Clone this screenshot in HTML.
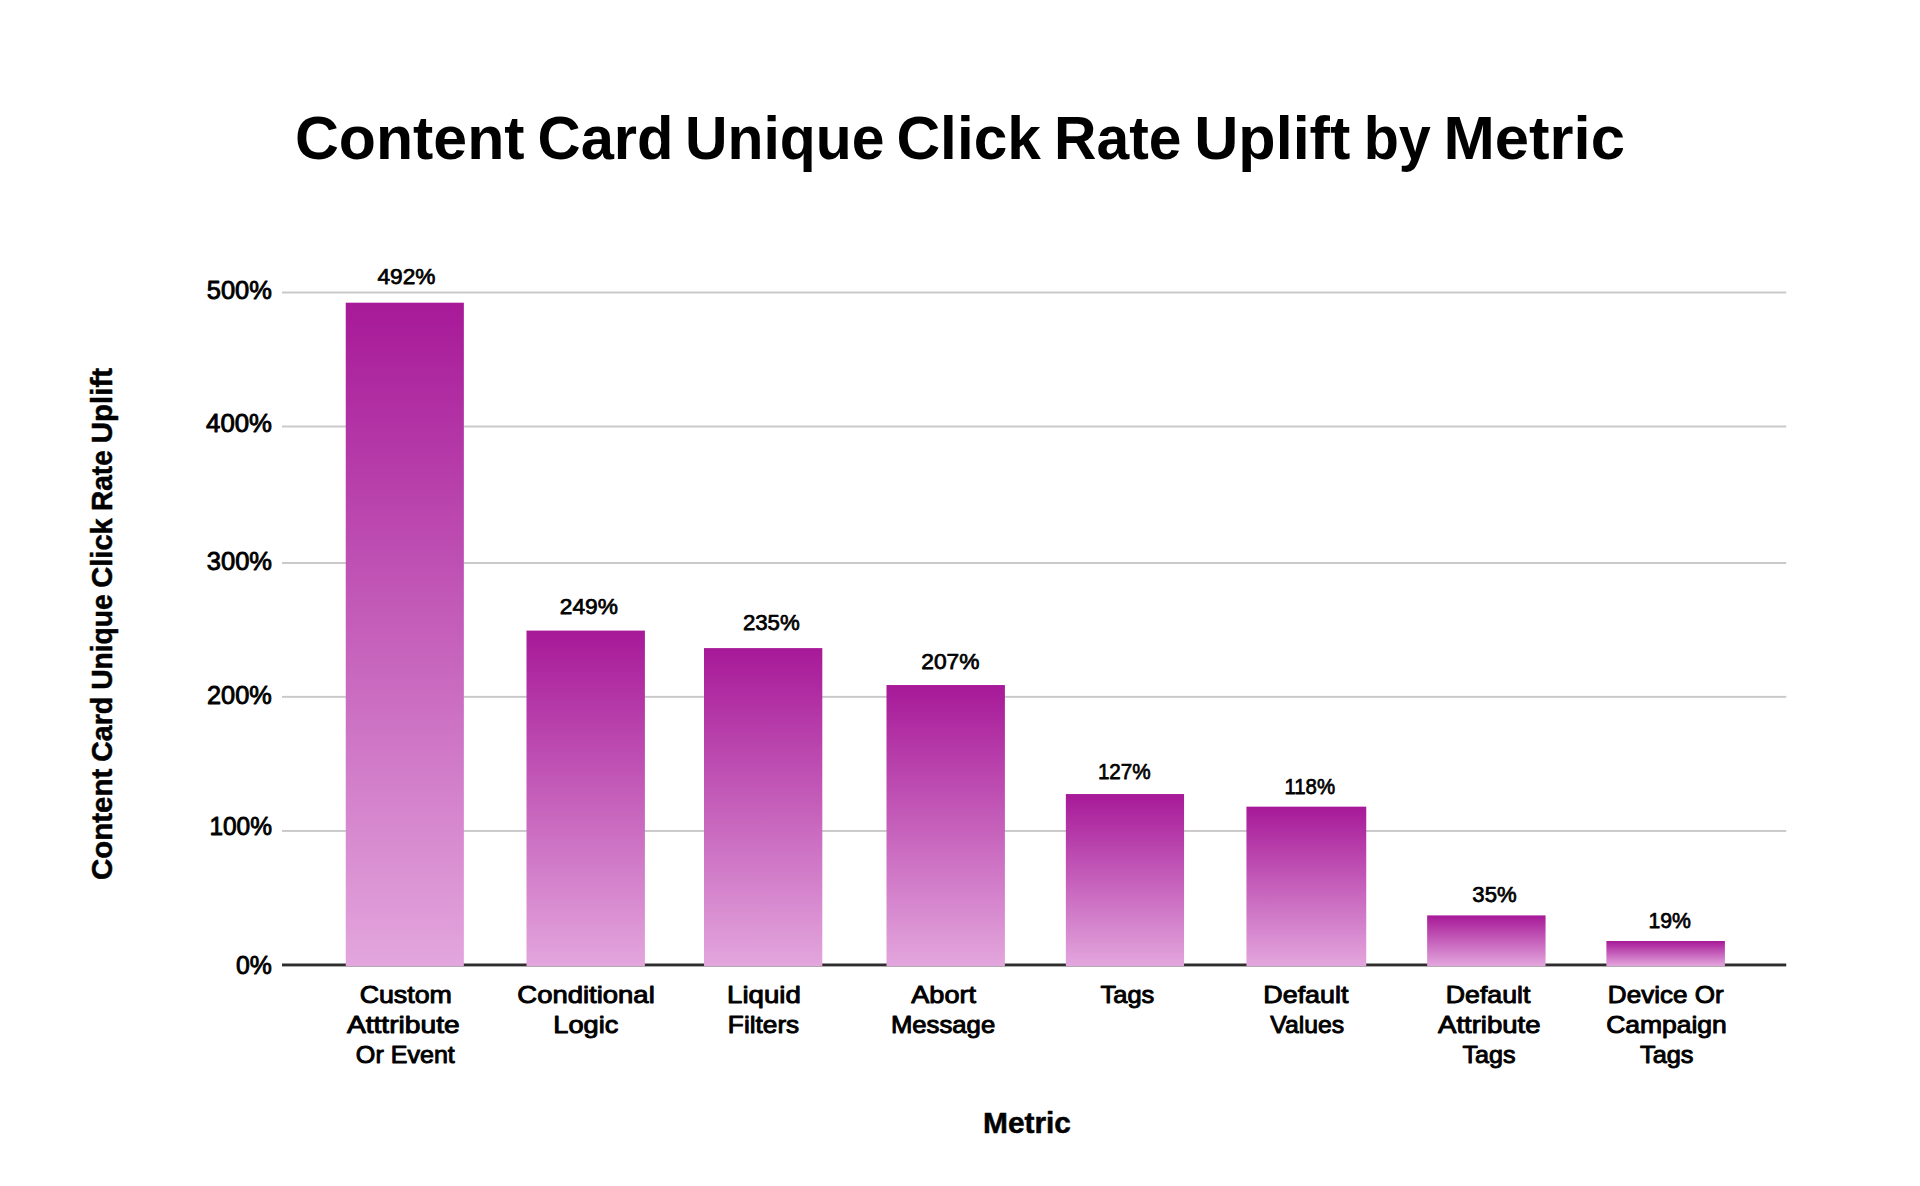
<!DOCTYPE html>
<html lang="en">
<head>
<meta charset="utf-8">
<title>Content Card Unique Click Rate Uplift by Metric</title>
<style>
html,body{margin:0;padding:0;background:#fff;}
body{width:1920px;height:1186px;overflow:hidden;}
svg{display:block;}
svg text{font-family:"Liberation Sans", sans-serif;fill:#000;}
</style>
</head>
<body>
<svg width="1920" height="1186" viewBox="0 0 1920 1186">
<defs><linearGradient id="bg" x1="0" y1="0" x2="0" y2="1"><stop offset="0" stop-color="#a71998"/><stop offset="1" stop-color="#e3a6dd"/></linearGradient></defs>
<rect width="1920" height="1186" fill="#fff"/>
<g id="grid" fill="#c9c7ca">
<rect x="282" y="291.55" width="1504.25" height="1.9"/>
<rect x="282" y="425.55" width="1504.25" height="1.9"/>
<rect x="282" y="562.05" width="1504.25" height="1.9"/>
<rect x="282" y="695.9" width="1504.25" height="1.9"/>
<rect x="282" y="830" width="1504.25" height="1.9"/>
</g>
<rect id="axis" x="282" y="963.5" width="1504.25" height="2.9" fill="#2d2d2d"/>
<g id="bars" fill="url(#bg)">
<rect x="345.75" y="302.7" width="118.1" height="663.4"/>
<rect x="526.5" y="630.6" width="118.4" height="335.5"/>
<rect x="704" y="648.1" width="118.3" height="318"/>
<rect x="886.5" y="685.05" width="118.4" height="281.05"/>
<rect x="1065.85" y="794.05" width="118.2" height="172.05"/>
<rect x="1246.45" y="806.65" width="119.8" height="159.45"/>
<rect x="1427.15" y="915.4" width="118.4" height="50.7"/>
<rect x="1606.4" y="941" width="118.5" height="25.1"/>
</g>
<g id="title">
<text id="t1" x="294.99" y="159" font-size="60.5" font-weight="700" textLength="229.51" lengthAdjust="spacingAndGlyphs">Content</text>
<text id="t2" x="537.53" y="159" font-size="60.5" font-weight="700" textLength="136.01" lengthAdjust="spacingAndGlyphs">Card</text>
<text id="t3" x="685.1" y="159" font-size="60.5" font-weight="700" textLength="199.36" lengthAdjust="spacingAndGlyphs">Unique</text>
<text id="t4" x="896.5" y="159" font-size="60.5" font-weight="700" textLength="144.35" lengthAdjust="spacingAndGlyphs">Click</text>
<text id="t5" x="1054.11" y="159" font-size="60.5" font-weight="700" textLength="127.47" lengthAdjust="spacingAndGlyphs">Rate</text>
<text id="t6" x="1194.21" y="159" font-size="60.5" font-weight="700" textLength="156.11" lengthAdjust="spacingAndGlyphs">Uplift</text>
<text id="t7" x="1363.7" y="159" font-size="60.5" font-weight="700" textLength="67.15" lengthAdjust="spacingAndGlyphs">by</text>
<text id="t8" x="1443.42" y="159" font-size="60.5" font-weight="700" textLength="181.56" lengthAdjust="spacingAndGlyphs">Metric</text>
</g>
<g id="ylabels">
<text id="y5" x="206.75" y="299" font-size="25.4" stroke="#000" stroke-width="0.9" stroke-linejoin="round" textLength="65.1" lengthAdjust="spacingAndGlyphs">500%</text>
<text id="y4" x="206.1" y="432" font-size="25.4" stroke="#000" stroke-width="0.9" stroke-linejoin="round" textLength="65.81" lengthAdjust="spacingAndGlyphs">400%</text>
<text id="y3" x="206.8" y="570" font-size="25.4" stroke="#000" stroke-width="0.9" stroke-linejoin="round" textLength="65.2" lengthAdjust="spacingAndGlyphs">300%</text>
<text id="y2" x="207.06" y="704" font-size="25.4" stroke="#000" stroke-width="0.9" stroke-linejoin="round" textLength="64.74" lengthAdjust="spacingAndGlyphs">200%</text>
<text id="y1" x="209.38" y="835" font-size="25.4" stroke="#000" stroke-width="0.9" stroke-linejoin="round" textLength="62.6" lengthAdjust="spacingAndGlyphs">100%</text>
<text id="y0" x="235.96" y="974" font-size="25.4" stroke="#000" stroke-width="0.9" stroke-linejoin="round" textLength="35.86" lengthAdjust="spacingAndGlyphs">0%</text>
</g>
<g id="values">
<text id="v1" x="377.45" y="284" font-size="22.6" stroke="#000" stroke-width="0.75" stroke-linejoin="round" textLength="57.96" lengthAdjust="spacingAndGlyphs">492%</text>
<text id="v2" x="559.75" y="614" font-size="22.6" stroke="#000" stroke-width="0.75" stroke-linejoin="round" textLength="58.08" lengthAdjust="spacingAndGlyphs">249%</text>
<text id="v3" x="742.92" y="630" font-size="22.6" stroke="#000" stroke-width="0.75" stroke-linejoin="round" textLength="56.81" lengthAdjust="spacingAndGlyphs">235%</text>
<text id="v4" x="921.25" y="669" font-size="22.6" stroke="#000" stroke-width="0.75" stroke-linejoin="round" textLength="58.27" lengthAdjust="spacingAndGlyphs">207%</text>
<text id="v5" x="1097.88" y="779" font-size="22.6" stroke="#000" stroke-width="0.75" stroke-linejoin="round" textLength="52.86" lengthAdjust="spacingAndGlyphs">127%</text>
<text id="v6" x="1284.4" y="794" font-size="22.6" stroke="#000" stroke-width="0.75" stroke-linejoin="round" textLength="50.67" lengthAdjust="spacingAndGlyphs">118%</text>
<text id="v7" x="1472.33" y="902" font-size="22.6" stroke="#000" stroke-width="0.75" stroke-linejoin="round" textLength="44.28" lengthAdjust="spacingAndGlyphs">35%</text>
<text id="v8" x="1648.5" y="928" font-size="22.6" stroke="#000" stroke-width="0.75" stroke-linejoin="round" textLength="42.47" lengthAdjust="spacingAndGlyphs">19%</text>
</g>
<g id="categories">
<text id="c1a" x="359.65" y="1003" font-size="24.1" stroke="#000" stroke-width="0.95" stroke-linejoin="round" textLength="92.23" lengthAdjust="spacingAndGlyphs">Custom</text>
<text id="c1b" x="346.9" y="1033" font-size="24.1" stroke="#000" stroke-width="0.95" stroke-linejoin="round" textLength="112.81" lengthAdjust="spacingAndGlyphs">Atttribute</text>
<text id="c1c" x="355.88" y="1063" font-size="24.1" stroke="#000" stroke-width="0.95" stroke-linejoin="round" textLength="98.96" lengthAdjust="spacingAndGlyphs">Or Event</text>
<text id="c2a" x="517.38" y="1003" font-size="24.1" stroke="#000" stroke-width="0.95" stroke-linejoin="round" textLength="137.38" lengthAdjust="spacingAndGlyphs">Conditional</text>
<text id="c2b" x="553.31" y="1033" font-size="24.1" stroke="#000" stroke-width="0.95" stroke-linejoin="round" textLength="65.06" lengthAdjust="spacingAndGlyphs">Logic</text>
<text id="c3a" x="727.03" y="1003" font-size="24.1" stroke="#000" stroke-width="0.95" stroke-linejoin="round" textLength="73.76" lengthAdjust="spacingAndGlyphs">Liquid</text>
<text id="c3b" x="727.88" y="1033" font-size="24.1" stroke="#000" stroke-width="0.95" stroke-linejoin="round" textLength="71.36" lengthAdjust="spacingAndGlyphs">Filters</text>
<text id="c4a" x="911.28" y="1003" font-size="24.1" stroke="#000" stroke-width="0.95" stroke-linejoin="round" textLength="64.76" lengthAdjust="spacingAndGlyphs">Abort</text>
<text id="c4b" x="890.91" y="1033" font-size="24.1" stroke="#000" stroke-width="0.95" stroke-linejoin="round" textLength="104.29" lengthAdjust="spacingAndGlyphs">Message</text>
<text id="c5a" x="1100.49" y="1003" font-size="24.1" stroke="#000" stroke-width="0.95" stroke-linejoin="round" textLength="53.8" lengthAdjust="spacingAndGlyphs">Tags</text>
<text id="c6a" x="1263.33" y="1003" font-size="24.1" stroke="#000" stroke-width="0.95" stroke-linejoin="round" textLength="85.05" lengthAdjust="spacingAndGlyphs">Default</text>
<text id="c6b" x="1270.25" y="1033" font-size="24.1" stroke="#000" stroke-width="0.95" stroke-linejoin="round" textLength="73.85" lengthAdjust="spacingAndGlyphs">Values</text>
<text id="c7a" x="1445.84" y="1003" font-size="24.1" stroke="#000" stroke-width="0.95" stroke-linejoin="round" textLength="84.54" lengthAdjust="spacingAndGlyphs">Default</text>
<text id="c7b" x="1438.03" y="1033" font-size="24.1" stroke="#000" stroke-width="0.95" stroke-linejoin="round" textLength="102.56" lengthAdjust="spacingAndGlyphs">Attribute</text>
<text id="c7c" x="1462.49" y="1063" font-size="24.1" stroke="#000" stroke-width="0.95" stroke-linejoin="round" textLength="53.04" lengthAdjust="spacingAndGlyphs">Tags</text>
<text id="c8a" x="1607.89" y="1003" font-size="24.1" stroke="#000" stroke-width="0.95" stroke-linejoin="round" textLength="115.79" lengthAdjust="spacingAndGlyphs">Device Or</text>
<text id="c8b" x="1606.17" y="1033" font-size="24.1" stroke="#000" stroke-width="0.95" stroke-linejoin="round" textLength="120.62" lengthAdjust="spacingAndGlyphs">Campaign</text>
<text id="c8c" x="1639.99" y="1063" font-size="24.1" stroke="#000" stroke-width="0.95" stroke-linejoin="round" textLength="53.55" lengthAdjust="spacingAndGlyphs">Tags</text>
</g>
<g id="xtitle">
<text id="xt" x="983.02" y="1133" font-size="28.7" font-weight="700" stroke="#000" stroke-width="0.5" stroke-linejoin="round" textLength="87.95" lengthAdjust="spacingAndGlyphs">Metric</text>
</g>
<g id="ytitle">
<text id="r1" transform="translate(112 879.92) rotate(-90)" font-size="28.7" font-weight="700" stroke="#000" stroke-width="0.5" stroke-linejoin="round" textLength="111.19" lengthAdjust="spacingAndGlyphs">Content</text>
<text id="r2" transform="translate(112 761.8) rotate(-90)" font-size="28.7" font-weight="700" stroke="#000" stroke-width="0.5" stroke-linejoin="round" textLength="65.12" lengthAdjust="spacingAndGlyphs">Card</text>
<text id="r3" transform="translate(112 689.82) rotate(-90)" font-size="28.7" font-weight="700" stroke="#000" stroke-width="0.5" stroke-linejoin="round" textLength="95.48" lengthAdjust="spacingAndGlyphs">Unique</text>
<text id="r4" transform="translate(112 587.68) rotate(-90)" font-size="28.7" font-weight="700" stroke="#000" stroke-width="0.5" stroke-linejoin="round" textLength="69.44" lengthAdjust="spacingAndGlyphs">Click</text>
<text id="r5" transform="translate(112 510.9) rotate(-90)" font-size="28.7" font-weight="700" stroke="#000" stroke-width="0.5" stroke-linejoin="round" textLength="60.61" lengthAdjust="spacingAndGlyphs">Rate</text>
<text id="r6" transform="translate(112 443.29) rotate(-90)" font-size="28.7" font-weight="700" stroke="#000" stroke-width="0.5" stroke-linejoin="round" textLength="75.34" lengthAdjust="spacingAndGlyphs">Uplift</text>
</g>
</svg>
</body>
</html>
